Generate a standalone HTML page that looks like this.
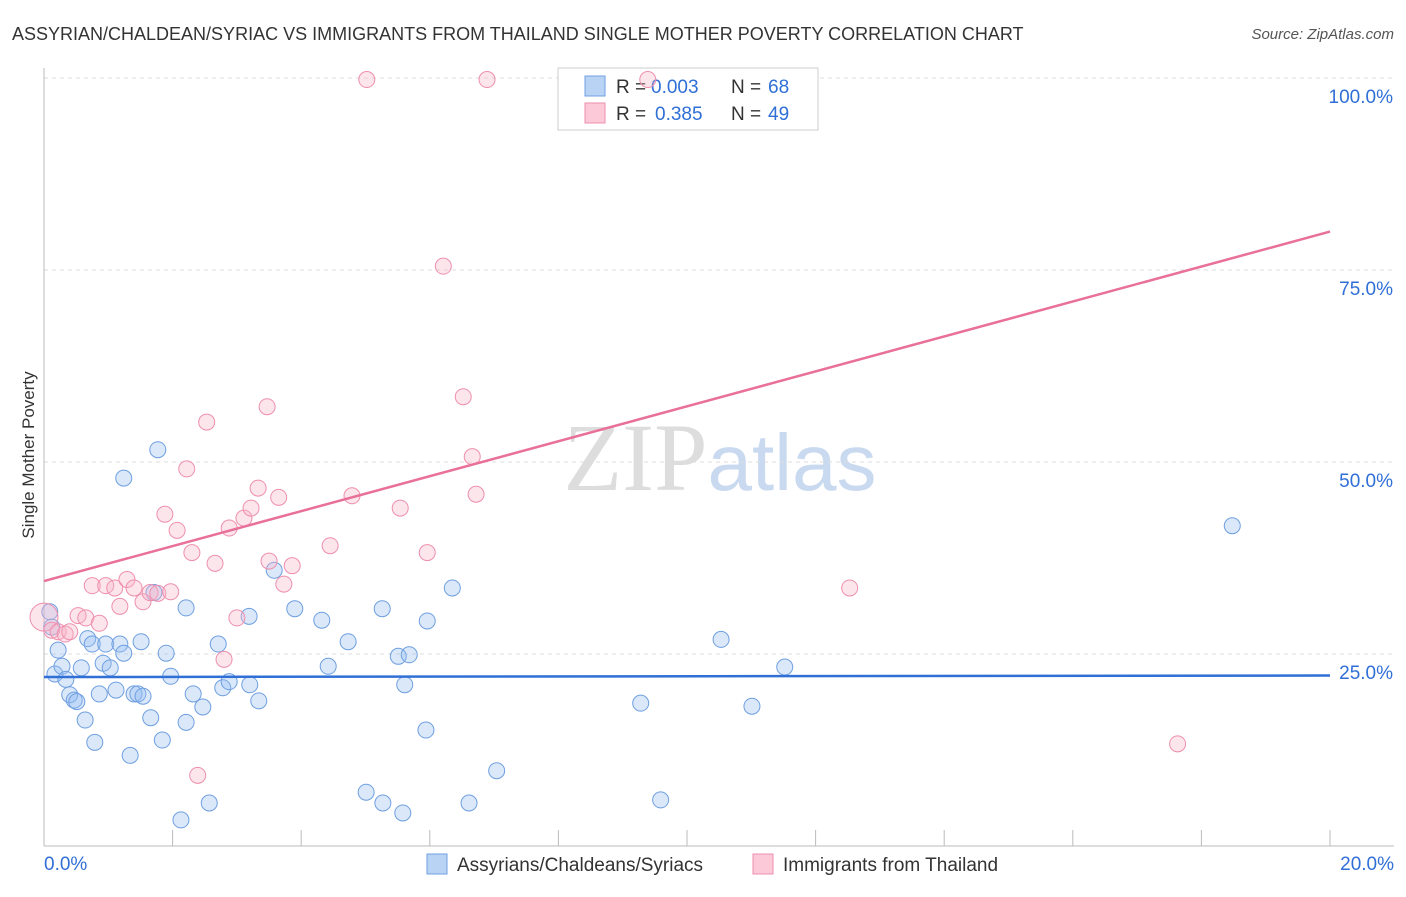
<!DOCTYPE html>
<html><head><meta charset="utf-8"><style>
body{margin:0;background:#fff;font-family:"Liberation Sans",sans-serif}
</style></head><body>
<svg id="c" width="1406" height="892" xmlns="http://www.w3.org/2000/svg" font-family="Liberation Sans, sans-serif">
<text x="12" y="40" font-size="18" fill="#333">ASSYRIAN/CHALDEAN/SYRIAC VS IMMIGRANTS FROM THAILAND SINGLE MOTHER POVERTY CORRELATION CHART</text>
<text x="1394" y="39" font-size="15" fill="#555" font-style="italic" text-anchor="end">Source: ZipAtlas.com</text>
<text transform="translate(34,455) rotate(-90)" font-size="17" fill="#333" text-anchor="middle">Single Mother Poverty</text>
<text x="720" y="490" font-size="96" text-anchor="middle" font-family="Liberation Serif, serif"><tspan fill="#ddd">ZIP</tspan><tspan fill="#c9daf0" font-family="Liberation Sans, sans-serif" font-size="80">atlas</tspan></text>
<g id="grid"></g>
<g>
<rect x="558" y="68" width="260" height="62" fill="#fff" stroke="#ccc"/>
<rect x="585" y="76" width="20" height="20" fill="#b9d3f5" stroke="#6f9fe0"/>
<rect x="585" y="103" width="20" height="20" fill="#fcc9d8" stroke="#ee8fae"/>
<text x="616" y="93" font-size="19" fill="#333">R =</text>
<text x="651" y="93" font-size="19" fill="#2f6fd6">0.003</text>
<text x="731" y="93" font-size="19" fill="#333">N =</text>
<text x="768" y="93" font-size="19" fill="#2f6fd6">68</text>
<text x="616" y="120" font-size="19" fill="#333">R =</text>
<text x="655" y="120" font-size="19" fill="#2f6fd6">0.385</text>
<text x="731" y="120" font-size="19" fill="#333">N =</text>
<text x="768" y="120" font-size="19" fill="#2f6fd6">49</text>
</g>
<g id="pts"></g>
<g>
<rect x="427" y="854" width="20" height="20" fill="#b9d3f5" stroke="#6f9fe0"/>
<text x="457" y="871" font-size="19" fill="#333">Assyrians/Chaldeans/Syriacs</text>
<rect x="753" y="854" width="20" height="20" fill="#fcc9d8" stroke="#ee8fae"/>
<text x="783" y="871" font-size="19" fill="#333">Immigrants from Thailand</text>
</g>
</svg>
<script>
const yTicks=[25,50,75,100];
const yTickLabels=["25.0%","50.0%","75.0%","100.0%"];
const xLabels=["0.0%","20.0%"];
const blueX=[0.09,0.12,0.17,0.22,0.28,0.34,0.40,0.47,0.51,0.58,0.64,0.68,0.75,0.79,0.86,0.92,0.96,1.03,1.12,1.18,1.24,1.24,1.34,1.40,1.46,1.51,1.54,1.66,1.71,1.77,1.84,1.90,1.97,2.13,2.21,2.21,2.32,2.47,2.57,2.71,2.78,2.88,3.19,3.20,3.34,3.58,3.90,4.32,4.42,4.73,5.01,5.26,5.27,5.51,5.58,5.61,5.68,5.94,5.96,6.35,6.61,7.04,9.28,9.59,10.53,11.01,11.52,18.48];
const blueY=[30.5,28.5,22.4,25.5,23.4,21.7,19.7,19.0,18.8,23.2,16.4,27.0,26.3,13.5,19.8,23.8,26.3,23.2,20.3,26.3,25.1,47.9,11.8,19.8,19.8,26.6,19.5,16.7,33.0,51.6,13.8,25.1,22.1,3.4,31.0,16.1,19.8,18.1,5.6,26.3,20.6,21.4,29.9,21.0,18.9,35.9,30.9,29.4,23.4,26.6,7.0,30.9,5.6,24.7,4.3,21.0,24.9,15.1,29.3,33.6,5.6,9.8,18.6,6.0,26.9,18.2,23.3,41.7];
const pinkX=[0.0,0.12,0.22,0.33,0.40,0.53,0.65,0.75,0.86,0.96,1.10,1.18,1.29,1.40,1.54,1.65,1.77,1.88,1.97,2.07,2.22,2.30,2.39,2.53,2.66,2.80,2.88,3.00,3.11,3.22,3.33,3.47,3.50,3.65,3.73,3.86,4.45,4.79,5.02,5.54,5.96,6.21,6.52,6.66,6.72,6.89,9.39,12.53,17.63];
const pinkY=[29.8,28.1,27.9,27.6,27.9,30.0,29.7,33.9,29.0,33.9,33.6,31.2,34.7,33.6,31.8,33.0,32.9,43.2,33.1,41.1,49.1,38.2,9.2,55.2,36.8,24.3,41.4,29.7,42.7,44.0,46.6,57.2,37.1,45.4,34.1,36.5,39.1,45.6,99.8,44.0,38.2,75.5,58.5,50.7,45.8,99.8,99.8,33.6,13.3];
const X=v=>44+v/20*1286, Y=v=>846-v*7.68;
const ns="http://www.w3.org/2000/svg";
function mk(t,a,p){const e=document.createElementNS(ns,t);for(const k in a)e.setAttribute(k,a[k]);p.appendChild(e);return e;}
const g=document.getElementById('grid');
yTicks.forEach((t,i)=>{
 const l=mk('line',{x1:44,x2:1394,y1:Y(t),y2:Y(t),stroke:'#ddd','stroke-dasharray':'4,4'},g);
 
 
 const tx=mk('text',{x:1393,y:Y(t)+25,'font-size':19,fill:'#2f6fd6','text-anchor':'end'},g);
 tx.textContent=yTickLabels[i];
 
 
});
mk('line',{x1:44,x2:44,y1:68,y2:846,stroke:'#bbb'},g);
mk('line',{x1:44,x2:1394,y1:846,y2:846,stroke:'#bbb'},g);
for(let i=0;i<=10;i++){mk('line',{x1:X(i*2),x2:X(i*2),y1:830,y2:846,stroke:'#bbb'},g);}
[[0,'start',44],[1,'end',1394]].forEach(([i,a,x])=>{const t=mk('text',{x:x,y:870,'font-size':19,fill:'#2f6fd6','text-anchor':a},g);t.textContent=xLabels[i];
 
 });
const p=document.getElementById('pts');
blueX.forEach((x,i)=>{const c=mk('circle',{cx:X(x),cy:Y(blueY[i]),r:8,fill:'rgba(150,190,240,0.35)',stroke:'#6f9fe0','stroke-width':1},p);
 
 });
pinkX.forEach((x,i)=>{const c=mk('circle',{cx:X(x),cy:Y(pinkY[i]),r:i==0?14:8,fill:'rgba(250,180,200,0.35)',stroke:'#ee8fae','stroke-width':1},p);
 
 });
const bl=mk('line',{x1:X(0),x2:X(20),y1:Y(22.0),y2:Y(22.2),stroke:'#2f6fd6','stroke-width':2.5},p);


const pl=mk('line',{x1:X(0),x2:X(20),y1:Y(34.5),y2:Y(80),stroke:'#e8709a','stroke-width':2.5},p);


</script>
</body></html>
